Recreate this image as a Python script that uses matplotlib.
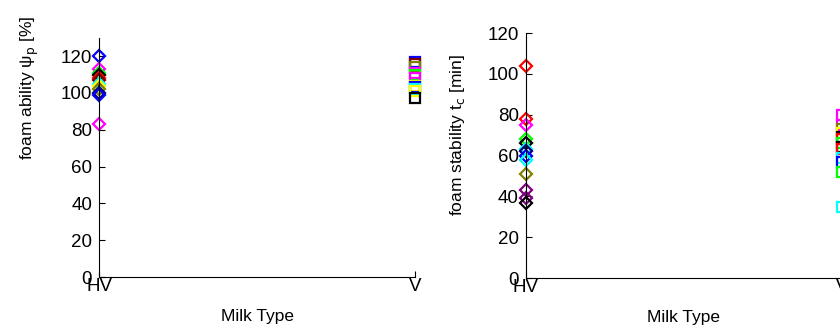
import matplotlib
matplotlib.use('Agg')
import matplotlib.pyplot as plt

plt.rcParams['font.family'] = ['Liberation Sans', 'DejaVu Sans']

# categories
milk_types = ['HV', 'V']

# foam ability, HV samples (diamonds) and V samples (squares)
ability_hv = [120, 113, 111, 110, 108, 107, 105, 104, 102, 100, 99, 83]
ability_hv_colors = ['#0000ff', '#ff00ff', '#00ff00', '#000000', '#ff0000', '#800000',
                     '#00ffff', '#ffff00', '#808000', '#000080', '#0000ff', '#ff00ff']
ability_v = [117, 116, 114, 111, 110, 108, 104, 103, 102, 101, 97]
ability_v_colors = ['#0000ff', '#800000', '#808000', '#ff00ff', '#00ff00', '#ff00ff',
                    '#ffff00', '#0000ff', '#00ffff', '#ffff00', '#000000']

# foam stability
stab_hv = [104, 78, 75, 68, 66, 63, 62, 60, 58, 51, 43, 39, 37]
stab_hv_colors = ['#ff0000', '#ff0000', '#ff00ff', '#00ff00', '#000000', '#00ffff', '#000080',
                  '#0000ff', '#00ffff', '#808000', '#800080', '#800080', '#000000']
stab_v = [80, 75, 73, 71, 69, 68, 66, 64, 63, 59, 57, 52, 35]
stab_v_colors = ['#ff00ff', '#ff00ff', '#808000', '#ffff00', '#000000', '#ff0000', '#00ff00',
                 '#000000', '#ff0000', '#00ffff', '#0000ff', '#00ff00', '#00ffff']

fig = plt.figure(figsize=(8.4, 3.31), dpi=100)
ax1 = fig.add_axes([0.118, 0.163, 0.376, 0.723])
ax2 = fig.add_axes([0.626, 0.160, 0.376, 0.740])


def draw_panel(ax, hv, hv_col, v, v_col, ymax, ylabel, label_x, label_y):
    for val, c in zip(hv, hv_col):
        ax.plot(1, val, 'D', mfc='none', mec=c, ms=6.5, mew=1.6, clip_on=False)
    for val, c in zip(v, v_col):
        ax.plot(2, val, 's', mfc='none', mec=c, ms=7, mew=1.6, clip_on=False)
    ax.set_xlim(1, 2)
    ax.set_ylim(0, ymax)
    ax.set_yticks(range(0, 121, 20))
    ax.set_xticks([1, 2])
    ax.set_xticklabels(milk_types)
    ax.spines['top'].set_visible(False)
    ax.spines['right'].set_visible(False)
    ax.tick_params(direction='in', length=4, labelsize=13.5)
    ax.tick_params(axis='y', pad=5)
    ax.tick_params(axis='x', pad=1)
    ax.set_xlabel('Milk Type', fontsize=12.5, labelpad=10)
    ax.set_ylabel(ylabel, fontsize=12.5)
    ax.yaxis.set_label_coords(label_x, label_y)


draw_panel(ax1, ability_hv, ability_hv_colors, ability_v, ability_v_colors, 130,
           'foam ability ψ$_\\mathrm{p}$ [%]', -0.185, 0.79)
draw_panel(ax2, stab_hv, stab_hv_colors, stab_v, stab_v_colors, 120,
           'foam stability t$_\\mathrm{c}$ [min]', -0.185, 0.584)

fig.savefig('out.png', dpi=100)
